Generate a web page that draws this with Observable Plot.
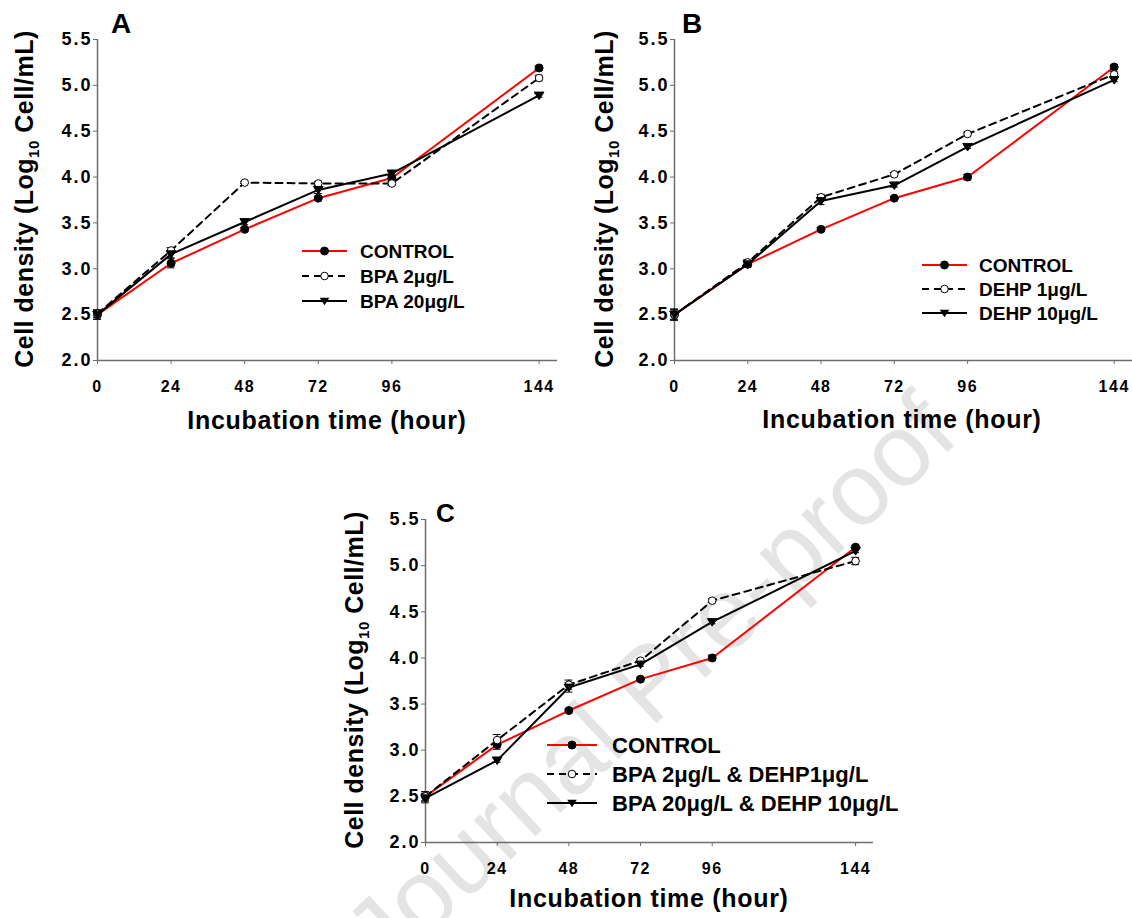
<!DOCTYPE html>
<html><head><meta charset="utf-8">
<script src="https://cdn.jsdelivr.net/npm/d3@7"></script>
<script src="https://cdn.jsdelivr.net/npm/@observablehq/plot@0.6"></script>
<style>
body{margin:0;background:#fff;}
#root{position:relative;width:1132px;height:918px;overflow:hidden;font-family:"Liberation Sans",Arial,sans-serif;}
.panel{position:absolute;overflow:visible;}
#root svg.panel text{font-family:"Liberation Sans",Arial,sans-serif;font-weight:bold;}
#root g[aria-label="x-axis tick label"] text, #root g[aria-label="y-axis tick label"] text{fill:#000;}
#root g[aria-label="x-axis tick label"]{letter-spacing:1.5px;}
#root g[aria-label="y-axis tick label"]{letter-spacing:2px;}
</style></head><body><div id="root"></div>
<script>
// ---------------- data ----------------
const hours = [0, 24, 48, 72, 96, 144];
const xTicks = [0, 24, 48, 72, 96, 144];
const yTicks = [2.0, 2.5, 3.0, 3.5, 4.0, 4.5, 5.0, 5.5];
const xLabel = "Incubation time (hour)";
const yLabelMain = "Cell density (Log";
const yLabelSub = "10";
const yLabelEnd = " Cell/mL)";

// Panel A
const namesA = ["CONTROL", "BPA 2μg/L", "BPA 20μg/L"];
const aControl = [2.50, 3.06, 3.43, 3.77, 3.99, 5.19];
const aControlErr = [0.05, 0.05, 0.02, 0.02, 0.02, 0.02];
const aBPA2 = [2.51, 3.20, 3.94, 3.93, 3.93, 5.08];
const aBPA2Err = [0.04, 0.03, 0.01, 0.02, 0.02, 0.03];
const aBPA20 = [2.50, 3.16, 3.51, 3.86, 4.04, 4.89];
const aBPA20Err = [0.05, 0.04, 0.03, 0.04, 0.02, 0.02];

// Panel B
const namesB = ["CONTROL", "DEHP 1μg/L", "DEHP 10μg/L"];
const bControl = [2.50, 3.05, 3.43, 3.77, 4.00, 5.20];
const bControlErr = [0.06, 0.03, 0.02, 0.02, 0.03, 0.02];
const bDEHP1 = [2.50, 3.07, 3.78, 4.03, 4.47, 5.12];
const bDEHP1Err = [0.05, 0.03, 0.03, 0.02, 0.02, 0.03];
const bDEHP10 = [2.50, 3.05, 3.74, 3.91, 4.33, 5.06];
const bDEHP10Err = [0.06, 0.03, 0.04, 0.02, 0.02, 0.02];

// Panel C
const namesC = ["CONTROL", "BPA 2μg/L & DEHP1μg/L", "BPA 20μg/L & DEHP 10μg/L"];
const cControl = [2.50, 3.06, 3.43, 3.77, 4.00, 5.20];
const cControlErr = [0.05, 0.05, 0.02, 0.02, 0.03, 0.02];
const cMixLow = [2.50, 3.11, 3.71, 3.97, 4.62, 5.05];
const cMixLowErr = [0.05, 0.06, 0.05, 0.02, 0.02, 0.04];
const cMixHigh = [2.48, 2.89, 3.68, 3.93, 4.39, 5.16];
const cMixHighErr = [0.05, 0.02, 0.05, 0.02, 0.02, 0.02];

const panelLetters = ["A", "B", "C"];
const watermark = "Journal Pre-proof";

// ---------------- styles ----------------
const triDown = {
  draw(ctx, size) {
    const r = Math.sqrt(size / Math.PI);
    ctx.moveTo(-1.15 * r, -0.8 * r);
    ctx.lineTo(1.15 * r, -0.8 * r);
    ctx.lineTo(0, 1.0 * r);
    ctx.closePath();
  }
};
const seriesStyle = [
  {stroke: "#ff0000", dash: null, fill: "#000", dotStroke: "#000", symbol: "circle", r: 4},
  {stroke: "#000", dash: "7,5", fill: "#fff", dotStroke: "#000", symbol: "circle", r: 3.8},
  {stroke: "#000", dash: null, fill: "#000", dotStroke: "#000", symbol: triDown, r: 4.2}
];
const axisColor = "#6e6e6e";

const root = d3.select("#root");

// watermark (behind)
const wm = root.append("svg").attr("width", 1132).attr("height", 918)
  .style("position", "absolute").style("left", "0px").style("top", "0px");
wm.append("text")
  .attr("transform", "translate(655,688) rotate(-43)")
  .attr("text-anchor", "middle")
  .attr("dominant-baseline", "middle")
  .style("font-family", "'Liberation Sans',Arial,sans-serif")
  .style("font-weight", "normal")
  .style("font-size", "102px")
  .style("fill", "#e4e4e4")
  .text(watermark);

function makePanel(cfg) {
  const rows = [];
  cfg.series.forEach((s, k) => s.values.forEach((v, j) => rows.push({hour: hours[j], value: v, err: s.err[j], k})));
  const marks = [
    Plot.ruleY([2], {stroke: axisColor, strokeWidth: 1.5}),
    Plot.ruleX([0], {y1: 2, y2: 5.5, stroke: axisColor, strokeWidth: 1.5}),
    Plot.axisX({ticks: xTicks, tickSize: 4, tickPadding: 16, stroke: axisColor, fontSize: cfg.xTickFont, label: null, tickFormat: d => String(d)}),
    Plot.axisY({ticks: yTicks, tickSize: 4, tickPadding: 1, stroke: axisColor, fontSize: cfg.yTickFont, label: null, tickFormat: d3.format(".1f")})
  ];
  // error bars
  marks.push(Plot.ruleX(rows, {x: "hour", y1: d => d.value - d.err, y2: d => d.value + d.err, stroke: "#000", strokeWidth: 1}));
  marks.push(Plot.ruleY(rows, {y: d => d.value + d.err, x1: d => d.hour - 1.3, x2: d => d.hour + 1.3, stroke: "#000", strokeWidth: 1}));
  marks.push(Plot.ruleY(rows, {y: d => d.value - d.err, x1: d => d.hour - 1.3, x2: d => d.hour + 1.3, stroke: "#000", strokeWidth: 1}));
  // lines
  [0, 1, 2].forEach(k => {
    const st = seriesStyle[k];
    marks.push(Plot.line(rows.filter(d => d.k === k), {x: "hour", y: "value", stroke: st.stroke, strokeWidth: 2, strokeDasharray: st.dash, strokeLinejoin: "miter"}));
  });
  [0, 1, 2].forEach(k => {
    const st = seriesStyle[k];
    marks.push(Plot.dot(rows.filter(d => d.k === k), {x: "hour", y: "value", r: st.r, symbol: st.symbol, fill: st.fill, stroke: st.dotStroke, strokeWidth: 1}));
  });
  const svg = Plot.plot({
    width: cfg.width, height: cfg.height,
    marginLeft: cfg.ml, marginRight: cfg.mr, marginTop: cfg.mt, marginBottom: cfg.mb,
    x: {domain: [0, 150]},
    y: {domain: [2, 5.5]},
    style: {background: "transparent", overflow: "visible", color: "#000"},
    marks
  });
  svg.classList.add("panel");
  const s = d3.select(svg)
    .style("position", "absolute").style("left", cfg.left + "px").style("top", cfg.top + "px");
  // panel letter
  s.append("text").attr("x", cfg.letterX).attr("y", cfg.letterY).attr("text-anchor", "start")
    .style("font-size", cfg.letterFont + "px").style("fill", "#000").text(cfg.letter);
  // y title
  const yt = s.append("text").attr("transform", `translate(${cfg.ytX},${cfg.ytY}) rotate(-90)`).attr("text-anchor", "middle")
    .style("font-size", "25px").style("letter-spacing", "0.5px").style("fill", "#000");
  yt.append("tspan").text(yLabelMain);
  yt.append("tspan").attr("dy", 6).style("font-size", "15px").text(yLabelSub);
  yt.append("tspan").attr("dy", -6).text(yLabelEnd);
  // x title
  s.append("text").attr("x", cfg.xtX).attr("y", cfg.xtY).attr("text-anchor", "middle")
    .style("font-size", "25px").style("letter-spacing", "0.7px").style("fill", "#000").text(xLabel);
  // legend
  cfg.names.forEach((name, k) => {
    const st = seriesStyle[k];
    const y = cfg.legY + k * cfg.legDy;
    const g = s.append("g");
    g.append("line").attr("x1", cfg.legX1).attr("x2", cfg.legX2).attr("y1", y).attr("y2", y)
      .attr("stroke", st.stroke).attr("stroke-width", 2).attr("stroke-dasharray", st.dash);
    const mx = (cfg.legX1 + cfg.legX2) / 2;
    if (k === 2) {
      const r = st.r;
      g.append("path").attr("d", `M${mx - 1.15 * r},${y - 0.8 * r}L${mx + 1.15 * r},${y - 0.8 * r}L${mx},${y + r}Z`).attr("fill", "#000");
    } else {
      g.append("circle").attr("cx", mx).attr("cy", y).attr("r", st.r).attr("fill", st.fill).attr("stroke", "#000").attr("stroke-width", 1);
    }
    g.append("text").attr("x", cfg.legTX).attr("y", y).attr("dy", "0.36em").attr("text-anchor", "start")
      .style("font-size", cfg.legFont + "px").style("fill", "#000").text(name);
  });
  root.node().appendChild(svg);
}

makePanel({
  left: 0, top: 0, width: 570, height: 440, ml: 97, mr: 13, mt: 39, mb: 80,
  series: [{values: aControl, err: aControlErr}, {values: aBPA2, err: aBPA2Err}, {values: aBPA20, err: aBPA20Err}],
  names: namesA, letter: panelLetters[0], letterX: 111, letterY: 33, letterFont: 28,
  xTickFont: 16, yTickFont: 18,
  ytX: 33, ytY: 199, xtX: 327, xtY: 429,
  legX1: 302, legX2: 347, legTX: 360, legY: 251, legDy: 25, legFont: 19
});
makePanel({
  left: 570, top: 0, width: 562, height: 440, ml: 104, mr: 0, mt: 39, mb: 80,
  series: [{values: bControl, err: bControlErr}, {values: bDEHP1, err: bDEHP1Err}, {values: bDEHP10, err: bDEHP10Err}],
  names: namesB, letter: panelLetters[1], letterX: 112, letterY: 33, letterFont: 28,
  xTickFont: 16, yTickFont: 18,
  ytX: 43, ytY: 199, xtX: 332, xtY: 428,
  legX1: 352, legX2: 397, legTX: 409, legY: 265, legDy: 24, legFont: 19
});
makePanel({
  left: 330, top: 480, width: 560, height: 440, ml: 95, mr: 17, mt: 39, mb: 78,
  series: [{values: cControl, err: cControlErr}, {values: cMixLow, err: cMixLowErr}, {values: cMixHigh, err: cMixHighErr}],
  names: namesC, letter: panelLetters[2], letterX: 106, letterY: 42, letterFont: 26,
  xTickFont: 16, yTickFont: 18,
  ytX: 33, ytY: 200, xtX: 319, xtY: 427,
  legX1: 217, legX2: 267, legTX: 282, legY: 265, legDy: 29, legFont: 22
});
</script>
</body></html>
